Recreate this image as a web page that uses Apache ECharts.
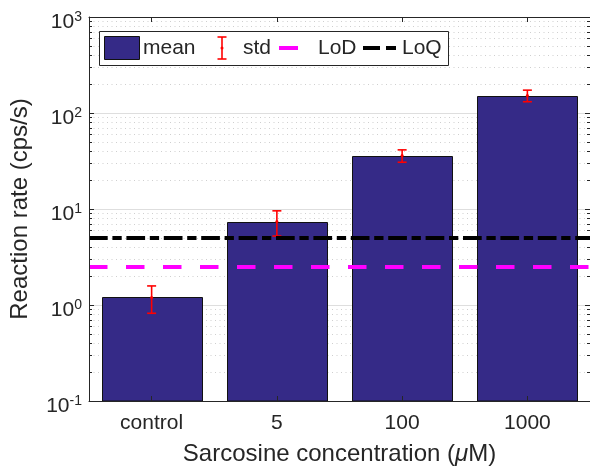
<!DOCTYPE html>
<html>
<head>
<meta charset="utf-8">
<script src="https://cdn.jsdelivr.net/npm/echarts@6/dist/echarts.min.js"></script>
<style>
  html, body { margin: 0; padding: 0; background: #fff; }
  #chart { width: 590px; height: 472px; }
</style>
</head>
<body>
<div id="chart"></div>
<script>
// Sarcosine assay: mean reaction rate per concentration, with std error bars
const categories = ['control', '5', '100', '1000'];
const meanRate = [1.2, 7.4, 36, 152];
const stdRate = [0.38, 2.17, 5.3, 21];
const lodValue = 2.5;   // limit of detection
const loqValue = 5;     // limit of quantification
const yMin = 0.1;
const yMax = 1000;

const FONT = "'Liberation Sans', Arial, Helvetica, sans-serif";
const INK = '#262626';
const BAR = '#352A87';

// decade gridlines plus the 2..9 minor steps inside each decade
const gridValues = [];
for (let e = Math.round(Math.log10(yMin)); e <= Math.round(Math.log10(yMax)); e++) {
  const base = Math.pow(10, e);
  gridValues.push([0, base, 1]);
  if (base < yMax) {
    for (let k = 2; k <= 9; k++) gridValues.push([0, k * base, 0]);
  }
}

const chart = echarts.init(document.getElementById('chart'), null, { renderer: 'canvas' });

function crisp(v) { return Math.round(v) + 0.5; }

// legend is drawn as a fixed block of shapes on top of everything
const LZ = 100;
const LFONT = '21px ' + FONT;
const legendItems = [
  { type: 'rect', shape: { x: 99.5, y: 31.5, width: 349, height: 34 },
    style: { fill: '#fff', stroke: INK, lineWidth: 1 } },
  { type: 'rect', shape: { x: 104.5, y: 36.5, width: 35, height: 23 },
    style: { fill: BAR, stroke: '#111', lineWidth: 1 } },
  { type: 'text', x: 143, y: 48, style: { text: 'mean', fill: INK, font: LFONT, textVerticalAlign: 'middle' } },
  { type: 'line', shape: { x1: 222, y1: 37, x2: 222, y2: 59 }, style: { stroke: '#FF0000', lineWidth: 1.6 } },
  { type: 'line', shape: { x1: 217.5, y1: 37, x2: 226.5, y2: 37 }, style: { stroke: '#FF0000', lineWidth: 1.6 } },
  { type: 'line', shape: { x1: 217.5, y1: 59, x2: 226.5, y2: 59 }, style: { stroke: '#FF0000', lineWidth: 1.6 } },
  { type: 'circle', shape: { cx: 222, cy: 48, r: 1.5 }, style: { fill: '#FF0000' } },
  { type: 'text', x: 243, y: 48, style: { text: 'std', fill: INK, font: LFONT, textVerticalAlign: 'middle' } },
  { type: 'line', shape: { x1: 279, y1: 48, x2: 298, y2: 48 }, style: { stroke: '#FF00FF', lineWidth: 4 } },
  { type: 'text', x: 318, y: 48, style: { text: 'LoD', fill: INK, font: LFONT, textVerticalAlign: 'middle' } },
  { type: 'line', shape: { x1: 363, y1: 48, x2: 380, y2: 48 }, style: { stroke: '#000', lineWidth: 4 } },
  { type: 'line', shape: { x1: 386, y1: 48, x2: 396, y2: 48 }, style: { stroke: '#000', lineWidth: 4 } },
  { type: 'text', x: 402, y: 48, style: { text: 'LoQ', fill: INK, font: LFONT, textVerticalAlign: 'middle' } }
].map((el, k) => Object.assign({ z: LZ + k, silent: true }, el));

const option = {
  animation: false,
  backgroundColor: '#fff',
  textStyle: { fontFamily: FONT },
  grid: { left: 87, top: 17, width: 505, height: 384 },
  xAxis: [
    {
      type: 'category',
      data: categories,
      position: 'bottom',
      z: 5,
      boundaryGap: true,
      axisLine: { show: true, lineStyle: { color: INK, width: 1 } },
      axisTick: { show: true, inside: true, alignWithLabel: true, length: 5, lineStyle: { color: INK } },
      axisLabel: { color: INK, fontSize: 21, fontFamily: FONT, margin: 12 },
      splitLine: { show: false },
      name: 'Sarcosine concentration ({mu|μ}M)',
      nameLocation: 'middle',
      nameGap: 41,
      nameTextStyle: {
        color: INK, fontSize: 24, fontFamily: FONT,
        rich: { mu: { color: INK, fontSize: 24, fontFamily: FONT, fontStyle: 'italic' } }
      }
    },
    {
      type: 'category',
      data: categories,
      position: 'top',
      z: 5,
      boundaryGap: true,
      axisLine: { show: true, lineStyle: { color: INK, width: 1 } },
      axisTick: { show: true, inside: true, alignWithLabel: true, length: 5, lineStyle: { color: INK } },
      axisLabel: { show: false },
      splitLine: { show: false }
    }
  ],
  yAxis: [
    {
      type: 'log',
      logBase: 10,
      min: yMin,
      max: yMax,
      position: 'left',
      z: 5,
      axisLine: { show: true, lineStyle: { color: INK, width: 1 } },
      axisTick: { show: true, inside: true, length: 5, lineStyle: { color: INK } },
      splitLine: { show: false },
      axisLabel: {
        color: INK,
        margin: 7,
        padding: [7, 0, 0, 0],
        formatter: function (v) {
          const e = Math.round(Math.log10(v));
          return '{b|10}{sup|' + e + '}';
        },
        rich: {
          b: { fontSize: 21, fontFamily: FONT, color: INK, lineHeight: 21, padding: [3, 0, 0, 0] },
          sup: { fontSize: 14, fontFamily: FONT, color: INK, lineHeight: 14, verticalAlign: 'top' }
        }
      },
      name: 'Reaction rate (cps/s)',
      nameLocation: 'middle',
      nameGap: 57,
      nameTextStyle: { color: INK, fontSize: 24, fontFamily: FONT }
    },
    {
      type: 'log',
      logBase: 10,
      min: yMin,
      max: yMax,
      position: 'right',
      z: 5,
      axisLine: { show: true, lineStyle: { color: INK, width: 1 } },
      axisTick: { show: true, inside: true, length: 5, lineStyle: { color: INK } },
      axisLabel: { show: false },
      splitLine: { show: false }
    }
  ],
  series: [
    {
      // y gridlines (solid at decades, dotted between) and minor ticks on both sides
      name: 'grid',
      type: 'custom',
      xAxisIndex: 0,
      yAxisIndex: 0,
      z: 1,
      silent: true,
      clip: false,
      data: gridValues,
      encode: { x: 0, y: 1 },
      renderItem: function (params, api) {
        const cs = params.coordSys;
        const v = api.value(1);
        const major = api.value(2) === 1;
        const y = crisp(api.coord([0, v])[1]);
        const children = [];
        if (v > yMin && v < yMax) {
          children.push({
            type: 'line',
            shape: { x1: cs.x, y1: y, x2: cs.x + cs.width, y2: y },
            style: major
              ? { stroke: '#DEDEDE', lineWidth: 1 }
              : { stroke: '#CFCFCF', lineWidth: 1, lineDash: [1, 3.5] }
          });
        }
        if (!major) {
          children.push({
            type: 'line',
            shape: { x1: cs.x, y1: y, x2: cs.x + 3, y2: y },
            style: { stroke: INK, lineWidth: 1 }
          });
          children.push({
            type: 'line',
            shape: { x1: cs.x + cs.width - 3, y1: y, x2: cs.x + cs.width, y2: y },
            style: { stroke: INK, lineWidth: 1 }
          });
        }
        return { type: 'group', children: children };
      }
    },
    {
      // bars rise from the bottom of the log axis
      name: 'mean',
      type: 'custom',
      xAxisIndex: 0,
      yAxisIndex: 0,
      z: 2,
      data: categories.map((c, i) => [i, meanRate[i]]),
      encode: { x: 0, y: 1 },
      renderItem: function (params, api) {
        const i = api.value(0);
        const top = api.coord([i, api.value(1)]);
        const base = api.coord([i, yMin]);
        const band = api.size([1, 0])[0];
        const w = band * 0.8;
        const x0 = Math.round(top[0] - w / 2) + 0.5;
        const x1 = Math.round(top[0] + w / 2) + 0.5;
        const y0 = Math.round(top[1]) + 0.5;
        return {
          type: 'rect',
          shape: { x: x0, y: y0, width: x1 - x0, height: base[1] - y0 },
          style: { fill: BAR, stroke: '#111', lineWidth: 1 }
        };
      }
    },
    {
      name: 'std',
      type: 'custom',
      xAxisIndex: 0,
      yAxisIndex: 0,
      z: 3,
      data: categories.map((c, i) => [i, meanRate[i], stdRate[i]]),
      encode: { x: 0, y: 1 },
      renderItem: function (params, api) {
        const i = api.value(0);
        const m = api.value(1);
        const s = api.value(2);
        const top = api.coord([i, m + s]);
        const bot = api.coord([i, m - s]);
        const mid = api.coord([i, m]);
        const hw = 4.5;
        const st = { stroke: '#FF0000', lineWidth: 1.6 };
        return {
          type: 'group',
          children: [
            { type: 'line', shape: { x1: mid[0], y1: top[1], x2: mid[0], y2: bot[1] }, style: st },
            { type: 'line', shape: { x1: mid[0] - hw, y1: top[1], x2: mid[0] + hw, y2: top[1] }, style: st },
            { type: 'line', shape: { x1: mid[0] - hw, y1: bot[1], x2: mid[0] + hw, y2: bot[1] }, style: st },
            { type: 'circle', shape: { cx: mid[0], cy: mid[1], r: 1.5 }, style: { fill: '#FF0000' } }
          ]
        };
      }
    },
    {
      name: 'limits',
      type: 'line',
      xAxisIndex: 0,
      yAxisIndex: 0,
      z: 4,
      data: [],
      markLine: {
        silent: true,
        symbol: 'none',
        animation: false,
        label: { show: false },
        data: [
          { yAxis: lodValue, lineStyle: { color: '#FF00FF', width: 4, type: [18.5, 18.5] } },
          { yAxis: loqValue, lineStyle: { color: '#000000', width: 4, type: [18.7, 4.7, 9.3, 4.7] } }
        ]
      }
    }
  ],
  graphic: legendItems
};

chart.setOption(option);
</script>
</body>
</html>
